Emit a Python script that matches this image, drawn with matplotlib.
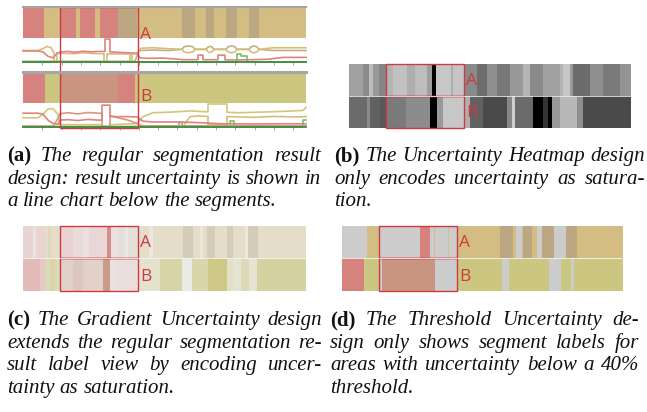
import matplotlib
matplotlib.use("Agg")
import matplotlib.pyplot as plt
from matplotlib.colors import to_rgb
from matplotlib.patches import Rectangle
from matplotlib.lines import Line2D
import numpy as np

W, H = 647, 412
FRAMES = 283
window = (37, 115)  # highlighted part of the sequence (frames)

palette = {"red": "#D6837F", "tan": "#D3BD83", "olive": "#CBC680",
           "salmon": "#C99580", "brown": "#BBA883", "none": "#CCCCCC"}
line_colors = {"red": "#DE8480", "tan": "#D6BE78", "brown": "#C4AE84",
               "olive": "#CFC77A", "salmon": "#D8968A", "green": "#6CC46C"}
faded_bg = "#EEEEEE"

# ---- (a) regular segmentation result ----
a_top_edges = [0, 21, 37, 53, 57, 72, 77, 95, 114, 159, 172, 183, 191, 203, 214, 226, 236, 283]
a_top_labels = ["red", "tan", "red", "tan", "red", "tan", "red", "brown", "tan", "brown",
                "tan", "brown", "tan", "brown", "tan", "brown", "tan"]
a_bot_edges = [0, 22, 37, 95, 112, 283]
a_bot_labels = ["red", "olive", "salmon", "red", "olive"]

# class probabilities below sequence A
a_red_x = [0, 15, 20, 25, 30, 34, 38, 45, 52, 60, 68, 76, 82, 82, 87, 87, 95, 105, 114, 117,
           125, 140, 150, 160, 175, 175, 180, 180, 195, 195, 202, 202, 215, 230, 245, 260, 283]
a_red_y = [.48, .48, .44, .25, .18, .38, .44, .46, .42, .47, .44, .46, .46, 1.0, 1.0, .44, .42, .40, .38, .18,
           .16, .17, .14, .10, .10, .30, .30, .10, .10, .30, .30, .09, .09, .10, .12, .20, .20]
a_tan_x = [0, 15, 20, 24, 28, 31, 31, 34, 34, 38, 50, 60, 70, 80, 81, 81, 84, 84, 95, 105,
           107, 107, 109, 109, 114, 118, 130, 145, 159, 161, 165.5, 170, 172, 183, 185, 187, 189, 191,
           203, 205, 208.5, 212, 214, 226, 228, 231, 234, 236, 250, 283]
a_tan_y = [.50, .50, .58, .68, .62, .40, .05, .05, .40, .38, .36, .40, .37, .36, .36, .02, .02, .35, .35, .35,
           .35, .02, .02, .35, .36, .60, .62, .58, .55, .44, .40, .44, .55, .55, .45, .41, .45, .55,
           .55, .44, .40, .44, .55, .55, .44, .40, .44, .55, .62, .62]
a_brown_x = [0, 112, 116, 130, 145, 159, 161, 165.5, 170, 172, 183, 185, 187, 189, 191,
             203, 205, 208.5, 212, 214, 226, 228, 231, 234, 236, 250, 283]
a_brown_y = [.03, .03, .50, .52, .50, .55, .66, .70, .66, .55, .55, .65, .68, .65, .55,
             .55, .66, .70, .66, .55, .55, .66, .70, .66, .55, .50, .50]
a_green_x = [0, 214, 214, 218, 218, 224, 224, 283]
a_green_y = [.02, .02, .35, .35, .25, .25, .02, .02]

# class probabilities below sequence B
b_red_x = [0, 15, 20, 25, 30, 35, 37, 45, 55, 65, 75, 79, 79, 87, 87, 95, 105, 114, 120, 130,
           150, 170, 200, 230, 260, 283]
b_red_y = [.60, .60, .55, .30, .15, .12, .30, .32, .28, .33, .30, .30, .95, .95, .45, .45, .45, .44, .25, .22,
           .22, .20, .14, .13, .14, .14]
b_salmon_x = [0, 30, 34, 37, 45, 55, 65, 75, 79, 79, 87, 87, 95, 105, 114, 120, 283]
b_salmon_y = [.04, .04, .30, .58, .62, .57, .63, .60, .60, .02, .02, .50, .40, .30, .15, .05, .05]
b_olive_x = [0, 15, 20, 25, 30, 35, 37, 60, 79, 79, 87, 87, 114, 120, 130, 150, 167, 185, 185, 204,
             204, 215, 240, 260, 280, 283]
b_olive_y = [.40, .40, .55, .78, .80, .55, .10, .10, .10, .02, .02, .10, .15, .45, .62, .65, .70, .66, 1.0, 1.0,
             .64, .62, .65, .68, .72, .85]
b_tan_x = [0, 160, 167, 175, 185, 185, 204, 204, 215, 230, 250, 270, 283]
b_tan_y = [.03, .03, .45, .48, .46, .10, .10, .45, .44, .42, .46, .44, .45]
b_green_x = [0, 156, 156, 159, 159, 207, 207, 211, 211, 280, 280, 283]
b_green_y = [.02, .02, .22, .22, .02, .02, .25, .25, .02, .02, .30, .30]

# ---- (b) uncertainty heatmap (gray level, 0 = black) ----
hm_top_edges = [0, 14, 20, 24, 30, 37, 44, 58, 66, 78, 83, 87, 102, 104, 115, 128, 138, 148, 161,
                174, 181, 194, 211, 214, 221, 224, 241, 254, 271, 282]
hm_top_vals = [.63, .55, .74, .60, .52, .70, .76, .68, .74, .62, .0, .78, .68, .77, .54, .43, .56, .47,
               .60, .71, .54, .63, .70, .78, .60, .42, .56, .48, .58]
hm_bot_edges = [0, 18, 21, 31, 37, 57, 81, 88, 94, 115, 121, 134, 158, 163, 166, 184, 194, 199,
                203, 211, 228, 234, 282]
hm_bot_vals = [.42, .54, .38, .35, .48, .55, .0, .60, .78, .69, .38, .29, .53, .81, .42, .0, .20, .0,
               .60, .72, .56, .29]

# ---- (c) gradient uncertainty: label + saturation ----
gr_top_edges = [0, 10, 13, 22, 25, 28, 37, 50, 60, 66, 84, 88, 95, 102, 105, 116, 126, 130, 160,
                170, 177, 180, 184, 192, 204, 210, 222, 225, 235, 283]
gr_top_labels = ["red", "red", "red", "tan", "tan", "tan", "red", "red", "red", "red", "red", "red",
                 "brown", "brown", "brown", "tan", "tan", "tan", "brown", "tan", "tan", "tan", "brown",
                 "tan", "brown", "tan", "tan", "brown", "tan"]
gr_top_sat = [.24, .12, .24, .35, .5, .35, .25, .18, .12, .22, .9, .12, .2, .1, .2, .35, .15, .35, .5,
              .35, .15, .35, .5, .35, .5, .35, .15, .5, .35]
gr_bot_edges = [0, 17, 22, 27, 32, 37, 50, 60, 80, 87, 95, 116, 137, 159, 169, 185, 204, 210, 218,
                226, 234, 283]
gr_bot_labels = ["red", "red", "olive", "olive", "olive", "salmon", "salmon", "salmon", "salmon",
                 "salmon", "red", "olive", "olive", "olive", "olive", "olive", "olive", "olive",
                 "olive", "olive", "olive"]
gr_bot_sat = [.48, .35, .5, .62, .5, .33, .45, .33, .93, .15, .15, .3, .65, .08, .6, .95, .35, .25,
              .5, .25, .7]

# ---- (d) threshold uncertainty ----
th_top_edges = [0, 25, 37, 78, 88, 92, 93, 106, 107, 115, 159, 172, 175, 181, 182, 191, 196, 201,
                213, 225, 236, 282]
th_top_labels = ["none", "tan", "none", "red", "none", "tan", "none", "tan", "none", "tan", "brown",
                 "tan", "none", "tan", "brown", "tan", "none", "brown", "none", "brown", "tan"]
th_bot_edges = [0, 22, 37, 40, 93, 115, 161, 168, 208, 220, 230, 233, 282]
th_bot_labels = ["red", "olive", "none", "salmon", "none", "olive", "none", "olive", "none", "olive",
                 "none", "olive"]

captions = [
    ("(a)", ["The regular segmentation result", "design: result uncertainty is shown in",
             "a line chart below the segments."], 7, 321, 161),
    ("(b)", ["The Uncertainty Heatmap design", "only encodes uncertainty as satura-", "tion."],
     334, 645, 161),
    ("(c)", ["The Gradient Uncertainty design", "extends the regular segmentation re-",
             "sult label view by encoding uncer-", "tainty as saturation."], 7, 322, 325),
    ("(d)", ["The Threshold Uncertainty de-", "sign only shows segment labels for",
             "areas with uncertainty below a 40%", "threshold."], 330, 639, 325),
]

RED_BOX = "#CD3A40"
fig = plt.figure(figsize=(W / 100, H / 100), dpi=100)


def px_axes(x0, y0, x1, y1):
    return fig.add_axes([x0 / W, 1 - y1 / H, (x1 - x0) / W, (y1 - y0) / H])


def hline(x0, x1, y, lw, color):
    fig.add_artist(Line2D([x0 / W, x1 / W], [1 - y / H, 1 - y / H], lw=lw, color=color,
                          transform=fig.transFigure))


def seg_bar(ax, edges, colors):
    e = np.asarray(edges, float)
    ax.barh(0.5, np.diff(e), left=e[:-1], height=1, color=colors, linewidth=0, antialiased=False)
    ax.set_xlim(0, FRAMES)
    ax.set_ylim(0, 1)
    ax.axis("off")


def faded(label, s):
    bg = np.array(to_rgb(faded_bg))
    return tuple(bg + (np.array(to_rgb(palette[label])) - bg) * s)


def line_chart(ax, series):
    for x, y, c in series:
        ax.plot(x, y, color=line_colors[c], lw=1.2, clip_on=False)
    ax.set_xlim(0, FRAMES)
    ax.set_ylim(0, 1)
    for s in ["top", "left", "right"]:
        ax.spines[s].set_visible(False)
    ax.spines["bottom"].set_color("#3E8C3E")
    ax.spines["bottom"].set_linewidth(1.3)
    ax.set_facecolor("none")
    ax.set_yticks([])
    ax.set_xticks(np.arange(19.3, FRAMES, 19.3))
    ax.tick_params(axis="x", length=2, width=0.6, color="#9A9A9A", labelbottom=False)


def overlay(x0, y0, x1, y1, boxes, labels):
    ov = px_axes(x0, y0, x1, y1)
    ov.set_xlim(0, FRAMES)
    ov.set_ylim(y1, y0)
    ov.axis("off")
    ov.patch.set_alpha(0)
    for top, bottom in boxes:
        ov.add_patch(Rectangle((window[0], top), window[1] - window[0], bottom - top, fill=False,
                               ec=RED_BOX, lw=1.0, clip_on=False))
    for txt, y in labels:
        ov.text(window[1] + 2.5, y, txt, color=RED_BOX, fontsize=12.5, family="Open Sans",
                va="baseline", ha="left")


# ----- panel (a)
hline(23, 306, 7, 1.5, "#A6A6A6")
seg_bar(px_axes(23, 8, 306, 38), a_top_edges, [palette[l] for l in a_top_labels])
line_chart(px_axes(23, 39, 306, 62), [(a_brown_x, a_brown_y, "brown"), (a_tan_x, a_tan_y, "tan"),
                                      (a_green_x, a_green_y, "green"), (a_red_x, a_red_y, "red")])
hline(23, 306, 72, 2.2, "#A6A6A6")
seg_bar(px_axes(23, 73, 306, 103), a_bot_edges, [palette[l] for l in a_bot_labels])
line_chart(px_axes(23, 104, 306, 127), [(b_tan_x, b_tan_y, "tan"), (b_olive_x, b_olive_y, "olive"),
                                        (b_green_x, b_green_y, "green"),
                                        (b_salmon_x, b_salmon_y, "salmon"), (b_red_x, b_red_y, "red")])
overlay(23, 0, 306, 135, [(7, 128)], [("A", 39), ("B", 101)])

# ----- panel (b)
for (y0, y1), edges, vals in [((64, 96), hm_top_edges, hm_top_vals), ((96, 128), hm_bot_edges, hm_bot_vals)]:
    ax = px_axes(349, y0, 631, y1)
    ax.pcolormesh(edges, [0, 1], np.array([vals]), cmap="gray", vmin=0, vmax=1)
    ax.set_xlim(0, 282)
    ax.axis("off")
hline(349, 631, 96, 0.6, "#E8E8E8")
overlay(349, 60, 631, 132, [(64, 96), (96, 128)], [("A", 85), ("B", 117)])

# ----- panel (c)
seg_bar(px_axes(23, 226, 306, 258), gr_top_edges, [faded(l, s) for l, s in zip(gr_top_labels, gr_top_sat)])
seg_bar(px_axes(23, 258, 306, 291), gr_bot_edges, [faded(l, s) for l, s in zip(gr_bot_labels, gr_bot_sat)])
hline(23, 306, 258, 0.6, "#F4F4F4")
overlay(23, 220, 306, 296, [(226, 258), (258, 291)], [("A", 247), ("B", 281)])

# ----- panel (d)
seg_bar(px_axes(342, 226, 624, 258), th_top_edges, [palette[l] for l in th_top_labels])
seg_bar(px_axes(342, 258, 624, 291), th_bot_edges, [palette[l] for l in th_bot_labels])
hline(342, 624, 258, 0.6, "#F4F4F4")
overlay(342, 220, 624, 296, [(226, 258), (258, 291)], [("A", 247), ("B", 281)])

# ----- justified captions
renderer = fig.canvas.get_renderer()
SERIF = "Liberation Serif"


def text_width(s, size, bold=False):
    t = fig.text(0, 0, s, fontsize=size, family=SERIF,
                 style="normal" if bold else "italic", weight="bold" if bold else "normal")
    w = t.get_window_extent(renderer).width
    t.remove()
    return w


ref = 10.0
ratios = []
for label, lines, x0, x1, yb in captions:
    for i, line in enumerate(lines[:-1]):
        s = (label + " " + line) if i == 0 else line
        ratios.append(text_width(s, ref) / (x1 - x0))
size = ref / max(ratios)
space = text_width("a a", size) - text_width("aa", size)
lead = 22.6

for label, lines, x0, x1, yb in captions:
    for i, line in enumerate(lines):
        items = [(label, True)] if i == 0 else []
        items += [(w, False) for w in line.split(" ")]
        widths = [text_width(w, size, b) for w, b in items]
        if i == len(lines) - 1:
            gap = space
        else:
            gap = (x1 - x0 - sum(widths)) / (len(items) - 1)
        x = x0
        y = yb + i * lead
        for (w, b), wd in zip(items, widths):
            fig.text(x / W, 1 - y / H, w, fontsize=size, family=SERIF, va="baseline",
                     style="normal" if b else "italic", weight="bold" if b else "normal", color="#111111")
            x += wd + gap

fig.savefig("out.png", dpi=100)
